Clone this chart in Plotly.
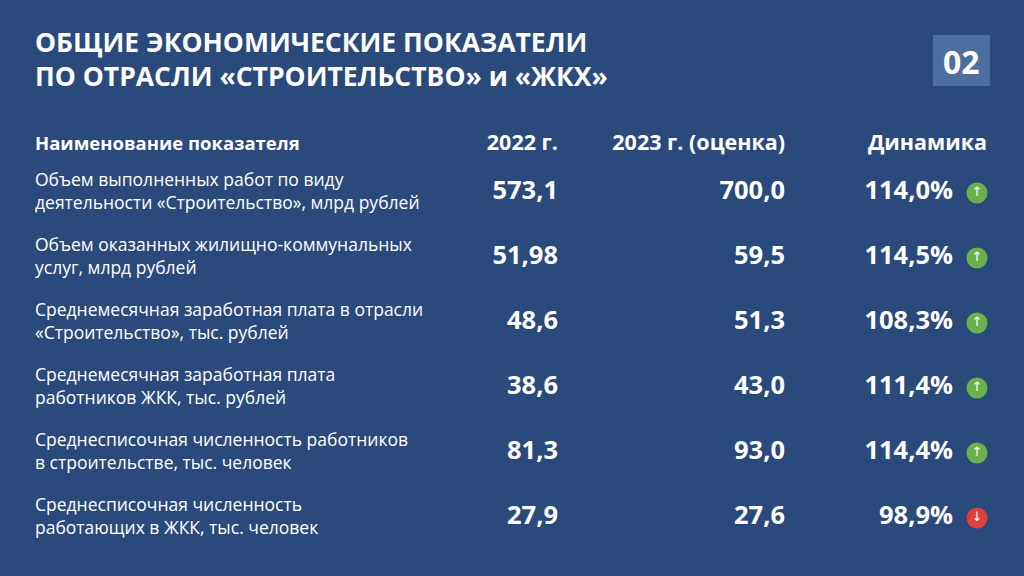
import plotly.graph_objects as go

labels = [
    "Объем выполненных работ по виду<br>деятельности «Строительство», млрд рублей",
    "Объем оказанных жилищно-коммунальных<br>услуг, млрд рублей",
    "Среднемесячная заработная плата в отрасли<br>«Строительство», тыс. рублей",
    "Среднемесячная заработная плата<br>работников ЖКК, тыс. рублей",
    "Среднесписочная численность работников<br>в строительстве, тыс. человек",
    "Среднесписочная численность<br>работающих в ЖКК, тыс. человек",
]
v2022 = ["573,1", "51,98", "48,6", "38,6", "81,3", "27,9"]
v2023 = ["700,0", "59,5", "51,3", "43,0", "93,0", "27,6"]
dyn = ["114,0%", "114,5%", "108,3%", "111,4%", "114,4%", "98,9%"]
growth = [True, True, True, True, True, False]
headers = ["Наименование показателя", "2022 г.", "2023 г. (оценка)", "Динамика"]

row_y = [193 + 65 * i for i in range(len(labels))]
font = "Open Sans"

fig = go.Figure()
fig.add_trace(go.Scatter(x=[35] * 6, y=row_y, mode="text", text=labels,
                         textposition="middle right",
                         textfont=dict(family=font, size=17.5, color="white")))
fig.add_trace(go.Scatter(x=[558] * 6, y=row_y, mode="text", text=["<b>%s</b>" % v for v in v2022],
                         textposition="middle left",
                         textfont=dict(family=font, size=25.5, color="white")))
fig.add_trace(go.Scatter(x=[785] * 6, y=row_y, mode="text", text=["<b>%s</b>" % v for v in v2023],
                         textposition="middle left",
                         textfont=dict(family=font, size=25.5, color="white")))
fig.add_trace(go.Scatter(x=[953] * 6, y=row_y, mode="text", text=["<b>%s</b>" % v for v in dyn],
                         textposition="middle left",
                         textfont=dict(family=font, size=25.5, color="white")))
fig.add_trace(go.Scatter(x=[977] * 6, y=row_y, mode="markers+text",
                         text=["↑" if g else "↓" for g in growth],
                         marker=dict(size=21, color=["#6ab04c" if g else "#e0403a" for g in growth]),
                         textfont=dict(family="DejaVu Sans", size=13, color="white")))

# header row
hx = [35, 558, 785, 987]
hpos = ["middle right", "middle left", "middle left", "middle left"]
for x, t, p in zip(hx, headers, hpos):
    fig.add_trace(go.Scatter(x=[x], y=[145], mode="text", text=["<b>%s</b>" % t], textposition=p,
                             textfont=dict(family=font, size=18.5 if x == 35 else 21.5, color="white")))

fig.add_annotation(x=33, y=59, xanchor="left", yanchor="middle", align="left", showarrow=False,
                   text="<b>ОБЩИЕ ЭКОНОМИЧЕСКИЕ ПОКАЗАТЕЛИ<br>ПО ОТРАСЛИ «СТРОИТЕЛЬСТВО» и «ЖКХ»</b>",
                   font=dict(family=font, size=26.5, color="white"))
fig.add_shape(type="rect", x0=933, x1=990, y0=35, y1=86, fillcolor="#4d6f9f", line_width=0)
fig.add_annotation(x=961, y=61, showarrow=False, text="<b>02</b>",
                   font=dict(family=font, size=32, color="white"))

fig.update_layout(
    width=1024, height=576, margin=dict(l=0, r=0, t=0, b=0),
    paper_bgcolor="#2a4a7b", plot_bgcolor="#2a4a7b", showlegend=False,
    xaxis=dict(range=[0, 1024], visible=False),
    yaxis=dict(range=[576, 0], visible=False),
)
fig.write_html("out.html", config={"displayModeBar": False},
               post_script="document.body.style.margin='0';")
